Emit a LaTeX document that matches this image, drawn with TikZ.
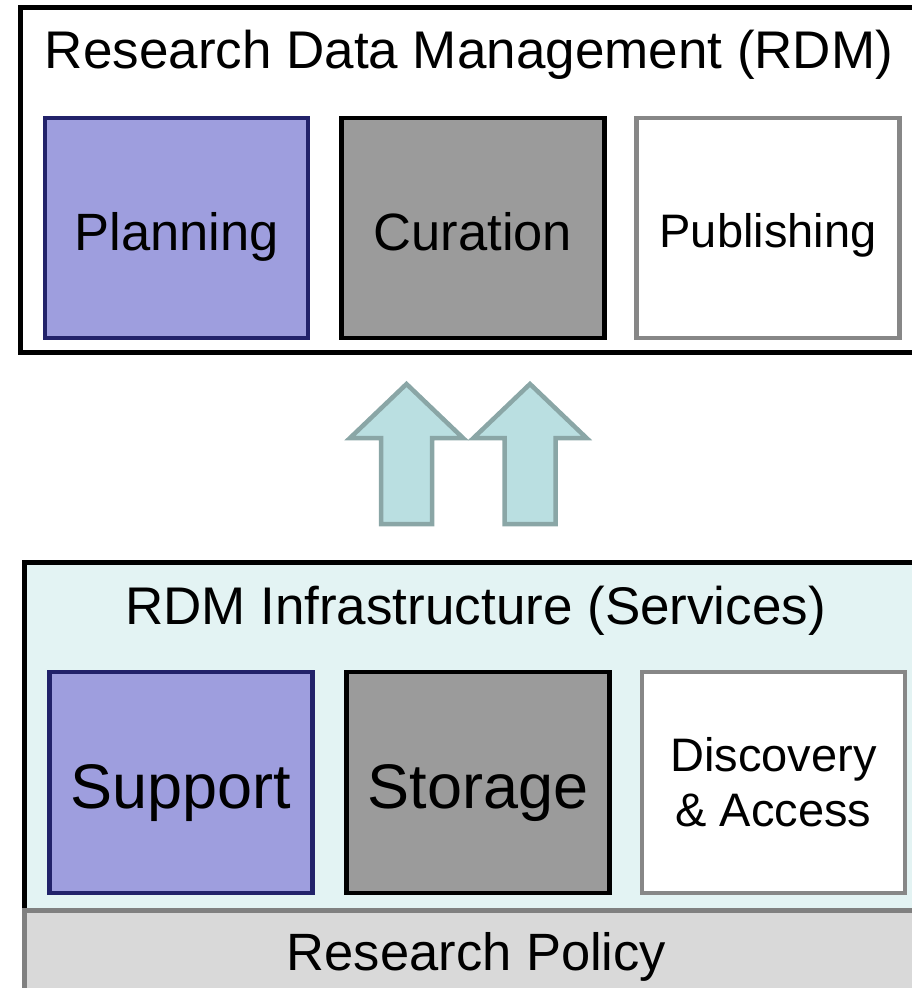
\documentclass[tikz,border=0pt]{standalone}
\usepackage{fontspec}
\setmainfont{Liberation Sans}
\definecolor{planFill}{HTML}{9E9EDE}
\definecolor{planDraw}{HTML}{22226A}
\definecolor{coreFill}{HTML}{9B9B9B}
\definecolor{openDraw}{HTML}{878787}
\definecolor{infraFill}{HTML}{E3F3F3}
\definecolor{policyFill}{HTML}{D9D9D9}
\definecolor{policyDraw}{HTML}{808080}
\definecolor{liftFill}{HTML}{BADFE1}
\definecolor{liftDraw}{HTML}{8AA6A6}
\newcommand{\boxFont}[1]{\fontsize{#1}{#1}\selectfont}

\begin{document}
\begin{tikzpicture}[x=1pt, y=-1pt]
  \tikzset{
    tile/.style={rectangle, line width=4.5pt, minimum width=263pt, minimum height=220pt, inner sep=0pt},
    % fixed label height, so the baseline sits half of it below the centre
    capsMid/.style={text height=#1, text depth=0pt},
    planTile/.style={tile, draw=planDraw, fill=planFill},
    coreTile/.style={tile, draw=black, fill=coreFill},
    openTile/.style={tile, draw=openDraw, fill=white},
    heading/.style={anchor=base, font=\boxFont{53}},
    lift/.style={draw=liftDraw, fill=liftFill, line width=4.5pt}
  }
  \useasboundingbox (0,0) rectangle (912,988);

  % RDM layer
  \draw[line width=5pt, fill=white] (20,7) rectangle (940,352);
  \node[heading] (rdm) at (469,68) {Research Data Management (RDM)};
  \node[planTile, capsMid=44pt, font=\boxFont{52.5}] (planning) at (176.5,228) {Planning};
  \node[coreTile, capsMid=44pt, font=\boxFont{52.5}] (curation) at (473,228) {Curation};
  \node[openTile, capsMid=39pt, font=\boxFont{47}] (publishing) at (768,228) {Publishing};

  % the two lift arrows
  \foreach \cx in {406.5,530}{
    \draw[lift] (\cx,384) -- (\cx+56.5,438) -- (\cx+25.5,438) -- (\cx+25.5,524)
      -- (\cx-25.5,524) -- (\cx-25.5,438) -- (\cx-56.5,438) -- cycle;
  }

  % infrastructure layer
  \draw[line width=5pt, fill=infraFill] (24,562) rectangle (940,1010);
  \node[heading] (infra) at (475.5,624) {RDM Infrastructure (Services)};
  \node[planTile, capsMid=51pt, font=\boxFont{63}, minimum height=221pt] (support) at (181,782.5) {Support};
  \node[coreTile, capsMid=51pt, font=\boxFont{63}, minimum height=221pt] (storage) at (478,782.5) {Storage};
  \node[openTile, font=\boxFont{47}, minimum height=221pt, align=center] (discovery)
    at (773.5,782.5) {Discovery\\[8pt]\& Access};

  % policy base
  \draw[line width=5pt, draw=policyDraw, fill=policyFill] (24,910) rectangle (940,1010);
  \node[heading, font=\boxFont{52.5}] (policy) at (476.5,970) {Research Policy};
\end{tikzpicture}
\end{document}
